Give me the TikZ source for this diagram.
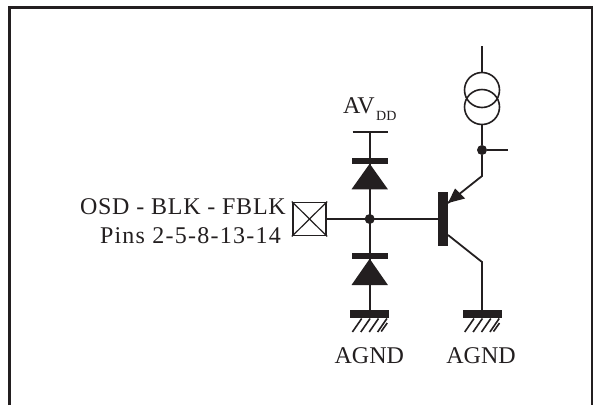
\documentclass[tikz,border=0pt]{standalone}
\usepackage{fontspec}
\setmainfont{Liberation Serif}
\newfontfamily\osdfont[LetterSpace=3.2]{Liberation Serif}
\newfontfamily\pinsfont[LetterSpace=5.2]{Liberation Serif}
\definecolor{ink}{HTML}{231F20}
\tikzset{
  wire/.style={draw=ink,line width=1.8pt},
  thin wire/.style={draw=ink,line width=1.2pt},
  dot/.style={circle,fill=ink,inner sep=0pt,minimum size=10pt},
  padbox/.style={rectangle,draw=ink,line width=1.9pt,inner sep=0pt,minimum width=33.5pt,minimum height=33pt},
  lbl/.style={text=ink,inner sep=0pt,font=\fontsize{24}{26}\selectfont},
  gbar/.style={fill=ink},
  hatch/.style={draw=ink,line width=1.6pt}
}
\newcommand{\gnd}[2]{%
  \fill[gbar] (#1-19.5,310) rectangle (#1+19.5,318);
  \foreach \d in {-8,0.4,8.8,17.2}
    \draw[hatch] (#1+\d,318.5) -- (#1+\d-9.3,332);
  \draw[hatch] (#1+17.5,323) -- (#1+11.5,331.5);
}
\newcommand{\diode}[3]{%
  \fill[ink] (#1-18.2,#2) rectangle (#1+18.2,#2+6.4);
  \fill[ink] (#1,#2+6) -- (#1+18.2,#3) -- (#1-18.2,#3) -- cycle;
}
\begin{document}
\begin{tikzpicture}[x=1pt,y=-1pt]
\useasboundingbox (0,0) rectangle (593,405);
\fill[white] (0,0) rectangle (593,405);
% frame
\coordinate (fbl) at (9.5,405);
\coordinate (ftl) at (9.5,7);
\coordinate (ftr) at (592,7);
\coordinate (fbr) at (592,405);
\draw[draw=ink,line width=3pt,line join=miter] (fbl) -- (ftl) -- (ftr) -- (fbr);
% named points
\node[padbox] (pad) at (309.5,219) {};
\node[dot] (j1) at (369.7,219) {};
\node[dot] (j2) at (482,150) {};
\coordinate (avtop) at (369.7,132);
\coordinate (gl) at (369.7,310);
\coordinate (gr) at (482,310);
\coordinate (avl) at (352.7,132);
\coordinate (avr) at (387.7,132);
\coordinate (base) at (439,219);
\coordinate (stub) at (508,150);
\coordinate (top) at (482,46);
\coordinate (c1) at (482,90);
\coordinate (c2) at (482,107);
\coordinate (emk) at (482,176);
\coordinate (emt) at (448,203);
\coordinate (colb) at (448,235);
\coordinate (colk) at (482,262);
% pad cross
\draw[thin wire] (pad.north west) -- (pad.south east);
\draw[thin wire] (pad.north east) -- (pad.south west);
% wires
\draw[wire] (pad.east) -- (base);
\draw[wire] (avtop) -- (gl);
\draw[wire] (avl) -- (avr);
% diodes
\diode{369.7}{157.7}{189.3}
\diode{369.7}{252.8}{285}
% transistor
\fill[ink] (438,192) rectangle (448,245.5);
\draw[wire] (j2) -- (stub);
\draw[wire] (top) -- (482,72.5);
\draw[wire] (482,124.5) -- (j2) -- (emk) -- (emt);
\fill[ink] (emt) -- (455,188.5) -- (465,198.5) -- cycle;
\draw[wire] (colb) -- (colk) -- (gr);
% current source
\draw[draw=ink,line width=1.6pt] (c1) circle (17.5);
\draw[draw=ink,line width=1.6pt] (c2) circle (17.5);
% grounds
\gnd{369.7}{}
\gnd{482}{}
% labels
\node[lbl,anchor=base east] (osd) at (286,214) {\osdfont OSD - BLK - FBLK};
\node[lbl,anchor=base east] (pins) at (281,243) {\pinsfont Pins 2-5-8-13-14};
\node[lbl,anchor=base west] (av) at (343,113) {AV};
\node[text=ink,inner sep=0pt,anchor=base west,font=\fontsize{14}{16}\selectfont] (dd) at (376,120.7) {DD};
\node[lbl,anchor=base] (agnd1) at (369.3,363) {AGND};
\node[lbl,anchor=base] (agnd2) at (481,363) {AGND};
\end{tikzpicture}
\end{document}
